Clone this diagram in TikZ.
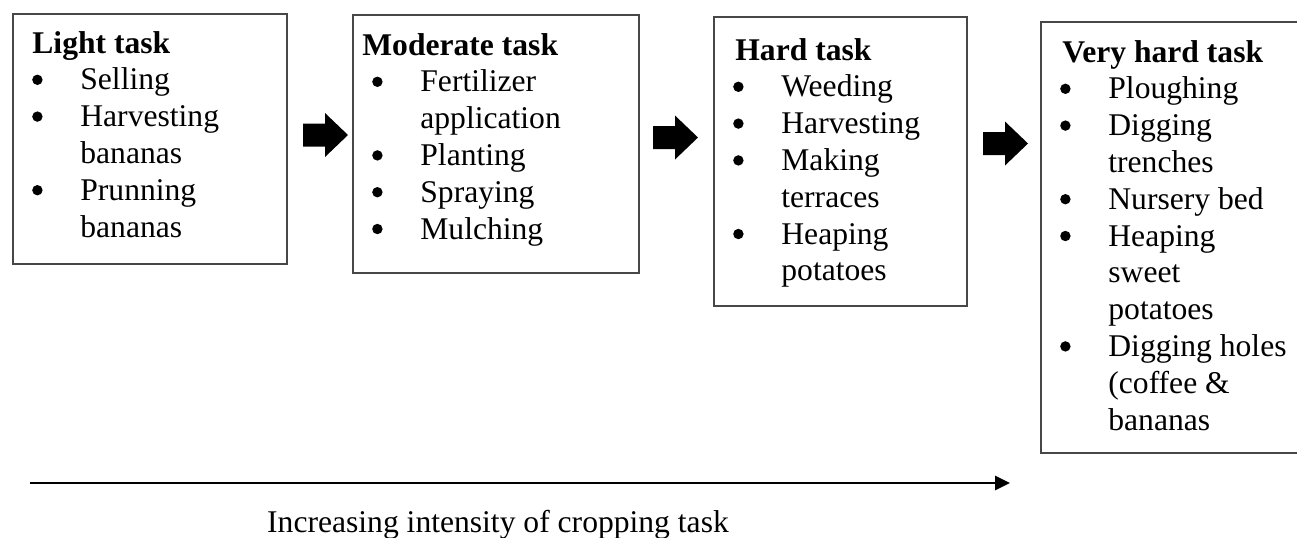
\documentclass[tikz,border=0pt]{standalone}
\usepackage{fontspec}
\setmainfont{Liberation Serif}
\usetikzlibrary{arrows.meta}

% round list bullet, centred a little above the baseline
\newcommand\listbullet{\tikz[baseline=0pt]\fill[black] (0pt,5pt) circle (2.6pt);}
% rows of a task list
\newcommand\titlerow[2]{\multicolumn{2}{@{\hspace{#1}}l@{}}{\textbf{#2}}\\}
\newcommand\itemrow[1]{\makebox[34pt][l]{\makebox[25pt]{\listbullet}} & #1\\}
\newcommand\controw[1]{ & #1\\}

\tikzset{
  taskbox/.style={draw=black!72, line width=0.85pt, rectangle, inner sep=0pt},
  tasklist/.style={inner sep=0pt, anchor=base west,
    font=\fontsize{15.8}{18.4}\selectfont},
  blockarrow/.pic={\fill[black] (0,-11.5) -- (22,-11.5) -- (22,-22) -- (45,0)
      -- (22,22) -- (22,11.5) -- (0,11.5) -- cycle;},
  axisarrow/.style={line width=1.45pt, -{Triangle[length=7.5pt,width=7pt]}},
  axislabel/.style={inner sep=0pt, anchor=base,
    font=\fontsize{15.8}{18.4}\selectfont}
}

\begin{document}
\begin{tikzpicture}[x=0.5pt, y=-0.5pt]
  \useasboundingbox (0,0) rectangle (1297,537);

  % frames of the four task groups
  \node[taskbox, anchor=north west, minimum width=137pt, minimum height=125pt]
    (light) at (12,13) {};
  \node[taskbox, anchor=north west, minimum width=143pt, minimum height=129pt]
    (moderate) at (352,14) {};
  \node[taskbox, anchor=north west, minimum width=126.5pt, minimum height=144.5pt]
    (hard) at (713,16) {};
  \node[taskbox, anchor=north west, minimum width=131pt, minimum height=215.5pt]
    (veryhard) at (1040,21) {};

  % task lists
  \node[tasklist] (light-list) at (12,53) {%
    \begin{tabular}[t]{@{}l@{}l@{}}
      \titlerow{10pt}{Light task}
      \itemrow{Selling}
      \itemrow{Harvesting}
      \controw{bananas}
      \itemrow{Prunning}
      \controw{bananas}
    \end{tabular}};

  \node[tasklist] (moderate-list) at (352,55) {%
    \begin{tabular}[t]{@{}l@{}l@{}}
      \titlerow{5pt}{Moderate task}
      \itemrow{Fertilizer}
      \controw{application}
      \itemrow{Planting}
      \itemrow{Spraying}
      \itemrow{Mulching}
    \end{tabular}};

  \node[tasklist] (hard-list) at (713,60) {%
    \begin{tabular}[t]{@{}l@{}l@{}}
      \titlerow{11pt}{Hard task}
      \itemrow{Weeding}
      \itemrow{Harvesting}
      \itemrow{Making}
      \controw{terraces}
      \itemrow{Heaping}
      \controw{potatoes}
    \end{tabular}};

  \node[tasklist] (veryhard-list) at (1040,62) {%
    \begin{tabular}[t]{@{}l@{}l@{}}
      \titlerow{11pt}{Very hard task}
      \itemrow{Ploughing}
      \itemrow{Digging}
      \controw{trenches}
      \itemrow{Nursery bed}
      \itemrow{Heaping}
      \controw{sweet}
      \controw{potatoes}
      \itemrow{Digging holes}
      \controw{(coffee \&}
      \controw{bananas}
    \end{tabular}};

  % block arrows between the groups
  \pic (step-one)   at (303,135)   {blockarrow};
  \pic (step-two)   at (653,137.5) {blockarrow};
  \pic (step-three) at (983,143.5) {blockarrow};

  % intensity axis
  \coordinate (axis-start) at (30,483);
  \coordinate (axis-end)   at (1010,483);
  \draw[axisarrow] (axis-start) -- (axis-end);
  \node[axislabel] (axis-label) at (498,532)
    {Increasing intensity of cropping task};
\end{tikzpicture}
\end{document}
